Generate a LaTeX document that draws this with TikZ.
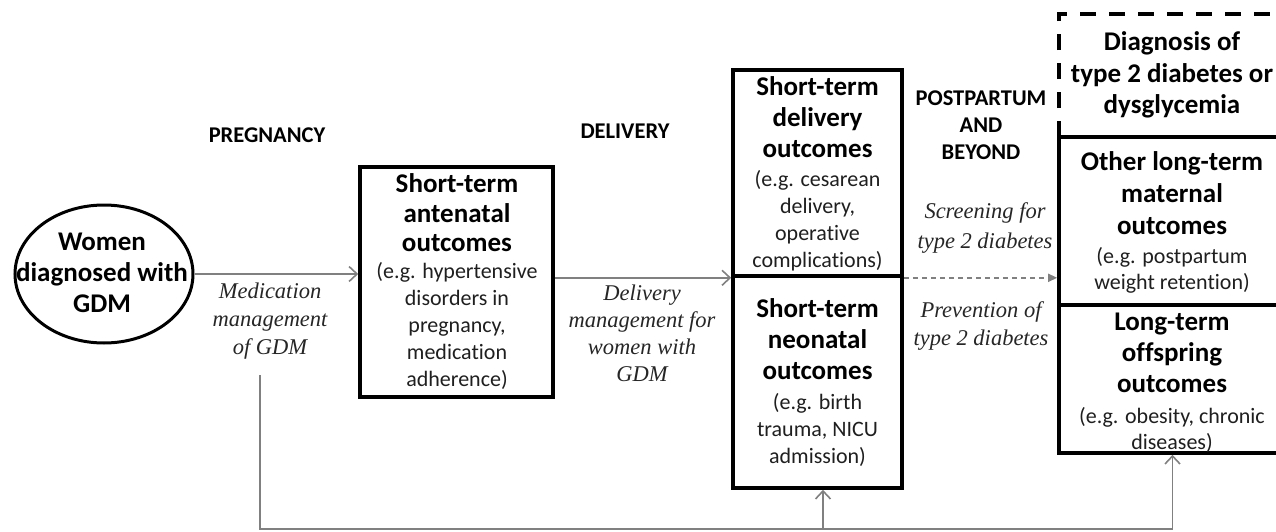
\documentclass[tikz,border=0pt]{standalone}
\usepackage{fontspec}
\setmainfont[Ligatures=NoCommon]{Carlito}
\newfontfamily\labfont{Liberation Serif}
\usetikzlibrary{shapes.geometric,arrows.meta}
\newcommand\strB{\rule{0pt}{21pt}}
\newcommand\strR{\rule{0pt}{17.5pt}}
\newcommand\strI{\rule{0pt}{16.5pt}}
\newcommand\strC{\rule{0pt}{17pt}}
\begin{document}
\begin{tikzpicture}[x=1pt,y=-1pt,
  frame/.style={draw, line width=3.6pt, rectangle, inner sep=0pt},
  hidden/.style={rectangle, inner sep=0pt},
  bt/.style={font={\fontsize{27}{#1}\selectfont\bfseries}, align=center, inner sep=0pt, anchor=north, text=black},
  bt/.default=31,
  rt/.style={font={\fontsize{22}{#1}\selectfont}, align=center, inner sep=0pt, anchor=north, text=black!88},
  rt/.default=27,
  it/.style={font={\labfont\itshape\fontsize{22.5}{#1}\selectfont}, align=center, inner sep=0pt, anchor=north, text=black!85},
  it/.default=28,
  ct/.style={font={\fontsize{22.5}{27}\selectfont\bfseries}, align=center, inner sep=0pt, anchor=north, text=black},
  conn/.style={draw=black!50, line width=1.6pt, -{Straight Barb[length=8pt,width=15pt,line width=1.6pt]}},
  dconn/.style={draw=black!50, line width=1.6pt, dash pattern=on 5pt off 4pt, -{Triangle[length=9pt,width=8pt]}},
  plain/.style={draw=black!50, line width=1.6pt}
]
\useasboundingbox (0,0) rectangle (1276,532);
\clip (0,0) rectangle (1276,532);

% shapes
\node[draw, ellipse, line width=3pt, inner sep=0pt, minimum width=178pt, minimum height=138pt] (e) at (104,274) {};
\node[frame, minimum width=193pt, minimum height=230pt] (b1) at (456.5,282) {};
\node[frame, minimum width=169pt, minimum height=206pt] (b2u) at (817.5,173) {};
\node[frame, minimum width=169pt, minimum height=212pt] (b2l) at (817.5,382) {};
\node[hidden, minimum width=227pt, minimum height=123pt] (diag) at (1172.5,75.5) {};
\node[frame, minimum width=227pt, minimum height=168pt] (mat) at (1172.5,221) {};
\node[frame, minimum width=227pt, minimum height=148pt] (off) at (1172.5,379) {};
\draw[line width=3.6pt, dash pattern=on 16pt off 13pt] (diag.south west) -- (diag.north west) -- (diag.north east);

% texts
\node[bt] (te) at (102,229.5) {\strB Women\\diagnosed with\\GDM};
\node[bt=29.5] (t1b) at (457,171.5) {\strB Short-term\\antenatal\\outcomes};
\node[rt] (t1r) at (457,260.5) {\strR(e.g. hypertensive\\disorders in\\pregnancy,\\medication\\adherence)};
\node[bt] (t2b) at (817.5,74.5) {\strB Short-term\\delivery\\outcomes};
\node[rt] (t2r) at (817.5,168.5) {\strR(e.g. cesarean\\delivery,\\operative\\complications)};
\node[bt] (t3b) at (817.5,296.5) {\strB Short-term\\neonatal\\outcomes};
\node[rt] (t3r) at (817.5,391.5) {\strR(e.g. birth\\trauma, NICU\\admission)};
\node[bt=31.5] (t4b) at (1172,29.5) {\strB Diagnosis of\\type 2 diabetes or\\dysglycemia};
\node[bt=32] (t5b) at (1172,149.5) {\strB Other long-term\\maternal\\outcomes};
\node[rt=26] (t5r) at (1172,245.5) {\strR(e.g. postpartum\\weight retention)};
\node[bt] (t6b) at (1172,309.5) {\strB Long-term\\offspring\\outcomes};
\node[rt=26] (t6r) at (1172,405.5) {\strR(e.g. obesity, chronic\\diseases)};

\node[ct] (lp) at (267,125.2) {\strC PREGNANCY};
\node[ct] (ld) at (625,121.2) {\strC DELIVERY};
\node[ct] (lb) at (981,88.2) {\strC POSTPARTUM\\AND\\BEYOND};

\node[it] (lmed) at (270,282) {\strI Medication\\management\\of GDM};
\node[it=27] (ldel) at (642,284) {\strI Delivery\\management for\\women with\\GDM};
\node[it=30] (lscr) at (985,202) {\strI Screening for\\type 2 diabetes};
\node[it] (lprev) at (981,301) {\strI Prevention of\\type 2 diabetes};

% connectors
\draw[conn] (e.east) -- (e.east -| b1.west);
\draw[conn] (b2u.south west -| b1.east) -- (b2u.south west);
\draw[dconn] (b2u.south east) -- (b2u.south east -| mat.west);
\coordinate (fbs) at (260,375);
\coordinate (fbe) at (260,529);
\draw[conn] (fbs) -- (fbe) -| (off.south);
\draw[conn] ([xshift=5.5pt]b2l.south |- fbe) -- ([xshift=5.5pt]b2l.south);
\end{tikzpicture}
\end{document}
